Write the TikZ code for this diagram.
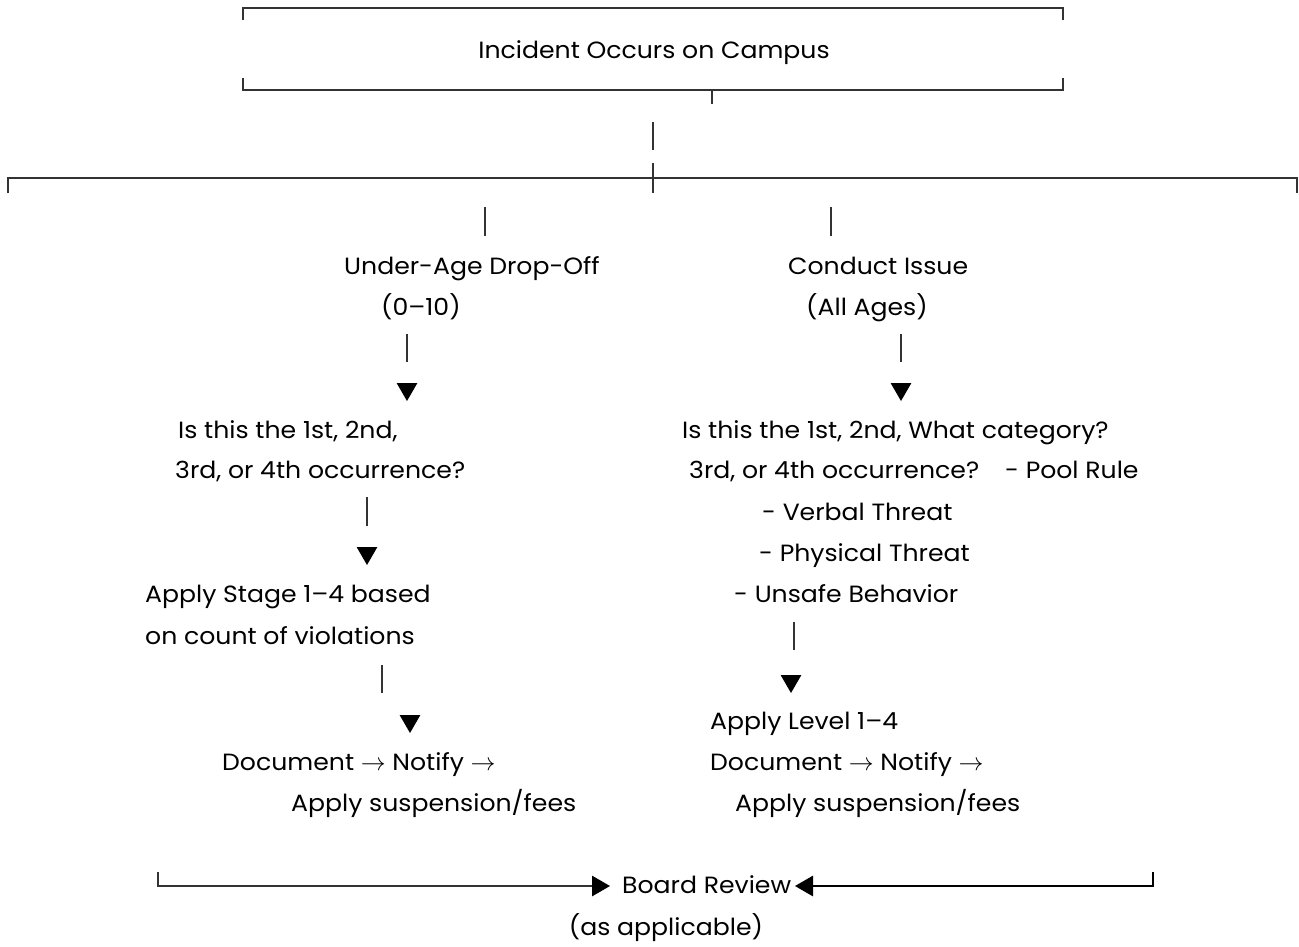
\documentclass[tikz,border=0pt]{standalone}
\usepackage{fontspec}
\setmainfont[FakeStretch=1.07]{Poppins}
\usetikzlibrary{shapes.geometric}
\tikzset{
  ln/.style={line width=1.3pt, draw=black!80},
  lnb/.style={line width=2pt, draw=black},
  mtxt/.style={font=\fontsize{23.5}{28}\selectfont, inner sep=0pt, text height=0.75em, text depth=0.25em, yshift=-5pt},
  tri/.style={regular polygon, regular polygon sides=3, fill=black, draw=none, inner sep=0pt, minimum size=24pt},
  tridown/.style={tri, shape border rotate=180},
  triright/.style={tri, shape border rotate=-90},
  trileft/.style={tri, shape border rotate=90},
}
\newcommand{\rarr}{\ensuremath{\rightarrow}}
\begin{document}
\begin{tikzpicture}[x=1pt,y=-1pt]
\useasboundingbox (0,0) rectangle (1299,946);

% top box
\coordinate (tbl) at (243,20); \coordinate (tbtl) at (243,8); \coordinate (tbtr) at (1063,8); \coordinate (tbr) at (1063,20);
\draw[ln] (tbl) -- (tbtl) -- (tbtr) -- (tbr);
\coordinate (bbl) at (243,78); \coordinate (bbbl) at (243,90); \coordinate (bbbr) at (1063,90); \coordinate (bbr) at (1063,78);
\draw[ln] (bbl) -- (bbbl) -- (bbbr) -- (bbr);
\node[mtxt] (inc) at (654,51) {Incident Occurs on Campus};
\coordinate (tk1) at (712,90); \coordinate (tk2) at (712,104);
\draw[ln] (tk1) -- (tk2);

% trunk
\coordinate (s1a) at (653,122); \coordinate (s1b) at (653,150);
\draw[ln] (s1a) -- (s1b);
\coordinate (s2a) at (653,163); \coordinate (s2b) at (653,193);
\draw[ln] (s2a) -- (s2b);
\coordinate (hl0) at (8,193); \coordinate (hl1) at (8,178); \coordinate (hr1) at (1297,178); \coordinate (hr0) at (1297,193);
\draw[ln] (hl0) -- (hl1) -- (hr1) -- (hr0);

\coordinate (bla) at (485,207); \coordinate (blb) at (485,236);
\draw[ln] (bla) -- (blb);
\coordinate (bra) at (831,207); \coordinate (brb) at (831,236);
\draw[ln] (bra) -- (brb);

% left branch
\node[mtxt, anchor=west] (ua) at (344,267) {Under-Age Drop-Off};
\node[mtxt, anchor=west] (ua2) at (381,308) {(0–10)};
\coordinate (l1a) at (407,334); \coordinate (l1b) at (407,362);
\draw[ln] (l1a) -- (l1b);
\node[tridown] (lt1) at (407,389) {};
\node[mtxt, anchor=west] (lq1) at (178,431) {Is this the 1st, 2nd,};
\node[mtxt, anchor=west] (lq2) at (175,471) {3rd, or 4th occurrence?};
\coordinate (l2a) at (367,497); \coordinate (l2b) at (367,526);
\draw[ln] (l2a) -- (l2b);
\node[tridown] (lt2) at (367,553) {};
\node[mtxt, anchor=west] (ls1) at (145,595) {Apply Stage 1–4 based};
\node[mtxt, anchor=west] (ls2) at (145,637) {on count of violations};
\coordinate (l3a) at (382,665); \coordinate (l3b) at (382,693);
\draw[ln] (l3a) -- (l3b);
\node[tridown] (lt3) at (410,721) {};
\node[mtxt, anchor=west] (ld1) at (222,763) {Document \rarr\ Notify \rarr};
\node[mtxt, anchor=west] (ld2) at (291,804) {Apply suspension/fees};

% right branch
\node[mtxt, anchor=west] (ci) at (788,267) {Conduct Issue};
\node[mtxt, anchor=west] (ci2) at (806,308) {(All Ages)};
\coordinate (r1a) at (901,334); \coordinate (r1b) at (901,362);
\draw[ln] (r1a) -- (r1b);
\node[tridown] (rt1) at (901,389) {};
\node[mtxt, anchor=west] (rq1) at (682,431) {Is this the 1st, 2nd, What category?};
\node[mtxt, anchor=west] (rq2) at (689,471) {3rd, or 4th occurrence?};
\node[mtxt, anchor=west] (c1) at (1005,471) {- Pool Rule};
\node[mtxt, anchor=west] (c2) at (762,513) {- Verbal Threat};
\node[mtxt, anchor=west] (c3) at (759,554) {- Physical Threat};
\node[mtxt, anchor=west] (c4) at (734,595) {- Unsafe Behavior};
\coordinate (r2a) at (794,622); \coordinate (r2b) at (794,650);
\draw[ln] (r2a) -- (r2b);
\node[tridown] (rt2) at (791,681) {};
\node[mtxt, anchor=west] (rl) at (710,722) {Apply Level 1–4};
\node[mtxt, anchor=west] (rd1) at (710,763) {Document \rarr\ Notify \rarr};
\node[mtxt, anchor=west] (rd2) at (735,804) {Apply suspension/fees};

% bottom
\node[mtxt, anchor=west] (br) at (622,886) {Board Review};
\node[mtxt] (asap) at (666,928) {(as applicable)};
\node[triright] (brt1) at (598,886) {};
\node[trileft] (brt2) at (807,886) {};
\coordinate (bl0) at (158,872); \coordinate (bl1) at (158,886);
\draw[ln] (bl0) -- (bl1) -- (brt1.west);
\coordinate (br0) at (1153,872); \coordinate (br1) at (1153,886);
\draw[lnb] (brt2.east) -- (br1) -- (br0);
\end{tikzpicture}
\end{document}
